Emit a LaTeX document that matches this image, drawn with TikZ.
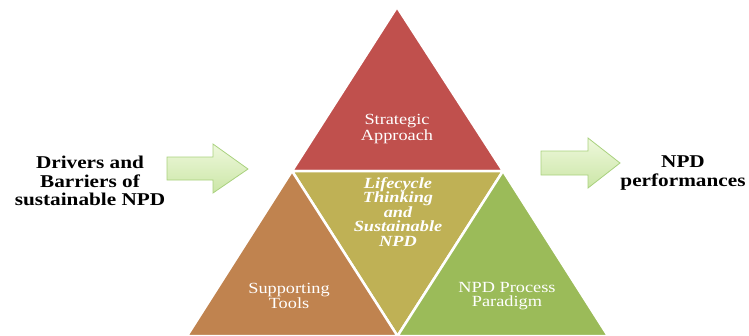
\documentclass[tikz,border=0pt]{standalone}
\usepackage{fontspec}
\setmainfont{Liberation Serif}
\newfontfamily\wideserif[FakeStretch=1.18]{Liberation Serif}
\usetikzlibrary{positioning}
\definecolor{topred}{HTML}{C0504D}
\definecolor{midolive}{HTML}{BFB155}
\definecolor{leftbrown}{HTML}{C0834F}
\definecolor{rightgreen}{HTML}{9BBB59}
\definecolor{arrowtop}{HTML}{EEF8DC}
\definecolor{arrowbot}{HTML}{CBE6A6}
\definecolor{arrowline}{HTML}{A9D17E}

\begin{document}
\begin{tikzpicture}
	[x=1pt,y=-1pt,
	tri/.style={draw=white,line width=2.5pt,line join=miter},
	arrowbox/.style={draw=arrowline,line width=0.8pt,top color=arrowtop,bottom color=arrowbot},
	side text/.style={align=center,font=\wideserif\bfseries\fontsize{18}{18.5}\selectfont},
	tri text/.style={align=center,text=white,font=\wideserif\fontsize{15.5}{14}\selectfont}]
	\useasboundingbox (0,0) rectangle (749,335);
	
	\coordinate (apex) at (397,7);
	\coordinate (midL) at (292,171);
	\coordinate (midR) at (503,171);
	\coordinate (baseL) at (187,336);
	\coordinate (baseM) at (397.5,336);
	\coordinate (baseR) at (608,336);
	
	\path[tri,fill=topred] (apex) -- (midL) -- (midR) -- cycle;
	\path[tri,fill=midolive] (midL) -- (midR) -- (baseM) -- cycle;
	\path[tri,fill=leftbrown] (midL) -- (baseM) -- (baseL) -- cycle;
	\path[tri,fill=rightgreen] (midR) -- (baseR) -- (baseM) -- cycle;
	
	\node [tri text] (strategic) at (397,129) {Strategic\\Approach};
	\node [tri text,font=\wideserif\bfseries\itshape\fontsize{15.5}{14.5}\selectfont] (lifecycle) at (398,212) {Lifecycle\\Thinking\\and\\Sustainable\\NPD};
	\node [tri text] (tools) at (289,296) {Supporting\\Tools};
	\node [tri text] (paradigm) at (507,296) {NPD Process\\Paradigm};
	
	\path[arrowbox] (167,157) -- (213,157) -- (213,144) -- (248,169) -- (213,193) -- (213,180) -- (167,180) -- cycle;
	\path[arrowbox] (541,151) -- (588,151) -- (588,138) -- (620,163) -- (588,188) -- (588,175) -- (541,175) -- cycle;
	
	\node [side text] (drivers) at (90,181) {Drivers and\\Barriers of\\sustainable NPD};
	\node [side text] (performances) at (683,173) {NPD\\performances};
	
\end{tikzpicture}
\end{document}
